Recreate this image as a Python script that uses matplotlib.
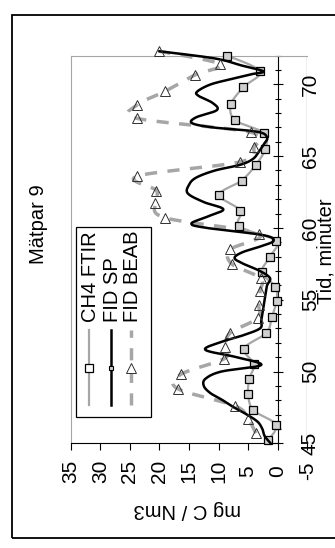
import numpy as np
import matplotlib
matplotlib.use("Agg")
import matplotlib.pyplot as plt
from matplotlib.lines import Line2D
from matplotlib.patches import Rectangle
from matplotlib.ticker import MultipleLocator

plt.rcParams['font.family'] = ['Liberation Sans', 'DejaVu Sans']
plt.rcParams['font.size'] = 14.5
plt.rcParams['axes.unicode_minus'] = False

# data: time in minutes, concentration in mg C / Nm3
ch4_t = [45.2, 46.3, 47.3, 48.4, 49.5, 50.5, 51.6, 52.7, 53.8, 54.9, 55.9, 56.9, 58.0,
         59.1, 60.1, 61.2, 62.3, 63.3, 64.4, 65.5, 66.6, 67.5, 68.6, 69.8, 70.9, 72.0]
ch4_v = [1.6, 0.3, 4.1, 5.0, 4.8, 4.0, 5.7, 1.9, 1.0, 0.2, 0.4, 2.7, 1.3,
         0.3, 6.5, 6.3, 9.9, 6.1, 3.7, 2.1, 2.3, 7.2, 7.9, 5.8, 3.0, 8.5]

sp_t = [45.0, 45.5, 46.0, 46.5, 47.0, 47.5, 48.0, 48.5, 49.0, 49.5, 50.0, 50.45, 51.0,
        51.5, 52.0, 52.5, 53.0, 53.5, 54.0, 54.5, 55.0, 55.5, 56.0, 56.5, 57.0, 57.5,
        57.9, 58.3, 58.7, 59.1, 59.5, 60.0, 60.3, 60.8, 61.3, 61.8, 62.4, 63.0, 63.5,
        64.0, 64.4, 64.8, 65.3, 65.8, 66.3, 66.7, 67.0, 67.3, 67.7, 68.2, 68.7, 69.2,
        69.5, 70.0, 70.4, 70.7, 70.9, 71.3, 71.8, 72.3]
sp_v = [1.2, 2.2, 2.6, 3.4, 5.2, 7.4, 9.3, 11.4, 12.5, 12.2, 9.5, 2.8, 7.0,
        12.2, 10.0, 6.0, 3.0, 2.8, 2.6, 2.4, 2.2, 2.0, 1.8, 1.3, 3.0, 5.8,
        7.3, 6.0, 3.0, 0.7, 2.5, 12.0, 14.6, 11.8, 9.2, 12.5, 15.2, 15.0, 13.8,
        10.6, 6.3, 4.2, 3.2, 2.4, 1.8, 3.5, 11.0, 14.5, 13.8, 10.3, 11.0, 13.4,
        13.6, 11.3, 7.5, 4.5, 2.4, 6.0, 10.6, 20.0]

beab_t = [45.7, 46.7, 47.6, 48.8, 49.8, 50.9, 51.7, 52.7, 53.7, 54.6, 55.6, 56.5, 57.5,
          58.5, 59.6, 60.7, 61.75, 62.6, 63.6, 64.6, 65.6, 66.66, 67.63, 68.56, 69.5,
          70.65, 71.4, 72.3]
beab_v = [3.7, 5.0, 7.2, 16.9, 16.4, 9.0, 8.9, 8.0, 3.4, 3.2, 3.0, 2.9, 7.8,
          8.0, 3.2, 19.0, 20.7, 20.5, 23.8, 6.3, 4.0, 4.6, 23.8, 23.8, 19.1,
          14.0, 9.7, 20.0]

value_ticks = [-5, 0, 5, 10, 15, 20, 25, 30, 35]
time_ticks = [45, 50, 55, 60, 65, 70]

W, H = 335, 548


def fx(x):
    return x / W


def fy(y):
    return 1 - y / H


def smooth(t, v, n=16):
    # Excel style smoothed line (Catmull-Rom through the points)
    p = np.column_stack([t, v]).astype(float)
    p = np.vstack([p[0], p, p[-1]])
    s = np.linspace(0, 1, n, endpoint=False)[:, None]
    out = []
    for i in range(1, len(p) - 2):
        p0, p1, p2, p3 = p[i - 1], p[i], p[i + 1], p[i + 2]
        c1 = p1 + (p2 - p0) / 6
        c2 = p2 - (p3 - p1) / 6
        out.append((1 - s) ** 3 * p1 + 3 * (1 - s) ** 2 * s * c1
                   + 3 * (1 - s) * s ** 2 * c2 + s ** 3 * p2)
    out.append(p[-2][None])
    c = np.vstack(out)
    return c[:, 0], c[:, 1]


fig = plt.figure(figsize=(W / 100, H / 100), dpi=100)
ax = fig.add_axes([fx(70.7), fy(443.3), (307.3 - 70.7) / W, (443.3 - 55.6) / H])

gray = '#a6a6a6'
# the chart is turned a quarter turn: value runs right-to-left, time runs upward
t, v = smooth(ch4_t, ch4_v)
ax.plot(v, t, color=gray, lw=1.6, clip_on=False, zorder=3)
ax.plot(ch4_v, ch4_t, ls='none', marker='s', ms=5.5, mfc='#d0d0d0', mec='black',
        mew=0.9, clip_on=False, zorder=4)

t, v = smooth(sp_t, sp_v)
ax.plot(v, t, color='black', lw=1.8, clip_on=False, zorder=5)

t, v = smooth(beab_t, beab_v)
ax.plot(v, t, color=gray, lw=2.5, ls=(0, (3.5, 3)), clip_on=False, zorder=3)
ax.plot(beab_v, beab_t, ls='none', marker='^', ms=6.5, mfc='none', mec='#303030',
        mew=0.7, clip_on=False, zorder=6)

ax.set_xlim(35, -5)
ax.set_ylim(45, 72)
ax.axvline(-5, color=gray, lw=1, zorder=1)
for s in ('left', 'top'):
    ax.spines[s].set_color(gray)
ax.spines['right'].set_position(('data', 0))
ax.spines['right'].set_color('black')
ax.spines['bottom'].set_color('black')
ax.spines['bottom'].set_bounds(0, 35)

ax.set_xticks(value_ticks)
ax.set_xticklabels([str(x) for x in value_ticks])
ax.tick_params(axis='x', direction='out', length=5, width=0.8, pad=15,
               labelrotation=90, labelsize=15)
for lab in ax.get_xticklabels():
    lab.set_va('center')

ax.yaxis.tick_right()
ax.set_yticks(time_ticks)
ax.set_yticklabels([str(x) for x in time_ticks])
ax.yaxis.set_minor_locator(MultipleLocator(1))
ax.tick_params(axis='y', which='major', direction='inout', length=7, width=0.8,
               pad=20, labelrotation=90, labelsize=15)
ax.tick_params(axis='y', which='minor', direction='inout', length=5, width=0.8)
for lab in ax.get_yticklabels():
    lab.set_ha('center')
    lab.set_va('center')

# legend, drawn by hand because it is turned as well
fig.add_artist(Rectangle((fx(75.7), fy(416.7)), (151 - 75.7) / W, (416.7 - 226.7) / H,
                         fill=False, ec='black', lw=0.9, transform=fig.transFigure))
entries = [
    (89.3, 'CH4 FTIR', dict(color=gray, lw=1.6), dict(marker='s', ms=5.5, mfc='white', mec='black', mew=0.9)),
    (111, 'FID SP', dict(color='black', lw=1.8), dict(marker='s', ms=3.5, mfc='#d0d0d0', mec='black', mew=0.8)),
    (131, 'FID BEAB', dict(color=gray, lw=2.5, ls=(0, (3.5, 3))), dict(marker='^', ms=6.5, mfc='white', mec='#303030', mew=0.7)),
]
for x, label, lstyle, mstyle in entries:
    fig.add_artist(Line2D([fx(x), fx(x)], [fy(405), fy(330)], transform=fig.transFigure, **lstyle))
    fig.add_artist(Line2D([fx(x)], [fy(368)], ls='none', transform=fig.transFigure, **mstyle))
    fig.text(fx(x + 1), fy(322), label, rotation=90, rotation_mode='anchor',
             ha='left', va='center')

fig.text(fx(39), fy(224), 'Mätpar 9', rotation=90, ha='center', va='center')
fig.text(fx(187), fy(510), 'mg C / Nm3', rotation=180, ha='center', va='center')
fig.text(fx(326.5), fy(251), 'Tid, minuter', rotation=90, ha='center', va='center')

fig.add_artist(Rectangle((fx(11.7), fy(538)), (345 - 11.7) / W, (538 - 14.7) / H,
                         fill=False, ec='black', lw=1.3, transform=fig.transFigure))

fig.savefig('out.png', dpi=100)
